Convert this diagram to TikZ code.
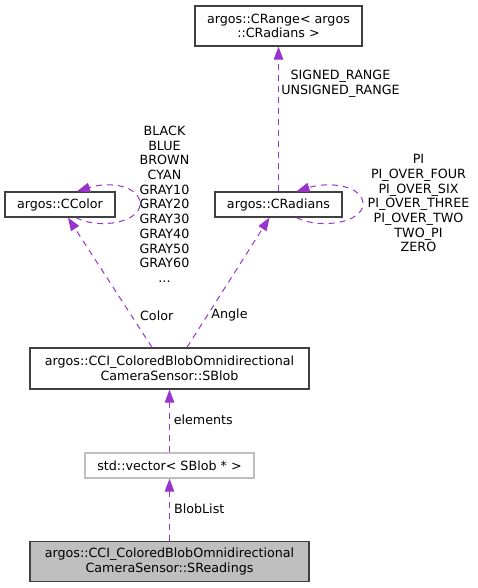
\documentclass[tikz,border=0pt]{standalone}
\usepackage{fontspec}
\setmainfont{DejaVu Sans}
\usetikzlibrary{arrows.meta}
\definecolor{edgepurple}{HTML}{9A32CD}
\definecolor{boxgray}{HTML}{404040}
\definecolor{rootfill}{HTML}{BFBFBF}
\tikzset{
  cls/.style={draw=boxgray, line width=1.3pt, fill=white, align=center, inner sep=0pt},
  extcls/.style={cls, draw=rootfill},
  rootcls/.style={cls, fill=rootfill},
  uses/.style={edgepurple, line width=1pt, dash pattern=on 6pt off 5pt,
    -{Triangle[length=13pt,width=9.5pt]}},
  lbl/.style={align=center, inner sep=0pt}
}
\begin{document}
\begin{tikzpicture}[x=1pt,y=-1pt,font=\fontsize{12.7}{14.7}\selectfont]
            \useasboundingbox (0,0) rectangle (477,588);
            \node[cls, minimum width=167pt, minimum height=40pt] (crange) at (278.5,26) {argos::CRange< argos\\::CRadians >};
            \node[cls, minimum width=110pt, minimum height=25pt] (ccolor) at (60,204.5) {argos::CColor};
            \node[cls, minimum width=127pt, minimum height=25pt] (cradians) at (278.5,204.5) {argos::CRadians};
            \node[cls, minimum width=279pt, minimum height=41pt] (sblob) at (169.5,368.5) {argos::CCI\_ColoredBlobOmnidirectional\\CameraSensor::SBlob};
            \node[extcls, minimum width=169pt, minimum height=25pt] (vec) at (169.5,465.5) {std::vector< SBlob * >};
            \node[rootcls, minimum width=279pt, minimum height=40pt] (sreadings) at (169.5,561.5) {argos::CCI\_ColoredBlobOmnidirectional\\CameraSensor::SReadings};

            % self loops
            \draw[uses] ([xshift=16pt]ccolor.south) .. controls (100,230) and (140,222) .. (140,204) .. controls (140,186) and (110,181) .. ([xshift=17pt]ccolor.north);
            \draw[uses] ([xshift=18pt]cradians.south) .. controls (322,230) and (363,222) .. (363,204) .. controls (363,186) and (330,181) .. ([xshift=18pt]cradians.north);

            \draw[uses] (cradians) -- (crange);
            \draw[uses] ([xshift=-17.5pt]sblob.north) -- ([xshift=8pt]ccolor.south);
            \draw[uses] ([xshift=17.5pt]sblob.north) -- ([xshift=-9pt]cradians.south);
            \draw[uses] (vec) -- (sblob);
            \draw[uses] (sreadings) -- (vec);

            \node[lbl] (lrange) at (340.5,84) {SIGNED\_RANGE\\UNSIGNED\_RANGE};
            \node[lbl] (lcolors) at (164.5,204.2) {BLACK\\BLUE\\BROWN\\CYAN\\GRAY10\\GRAY20\\GRAY30\\GRAY40\\GRAY50\\GRAY60\\...};
            \node[lbl] (langles) at (418.5,203.3) {PI\\PI\_OVER\_FOUR\\PI\_OVER\_SIX\\PI\_OVER\_THREE\\PI\_OVER\_TWO\\TWO\_PI\\ZERO};
            \node[lbl] (lcolor) at (156.7,315.3) {Color};
            \node[lbl] (langle) at (229.5,315.3) {Angle};
            \node[lbl] (lelem) at (203.3,419.3) {elements};
            \node[lbl] (lblob) at (199.2,508.3) {BlobList};
        \end{tikzpicture}
\end{document}
